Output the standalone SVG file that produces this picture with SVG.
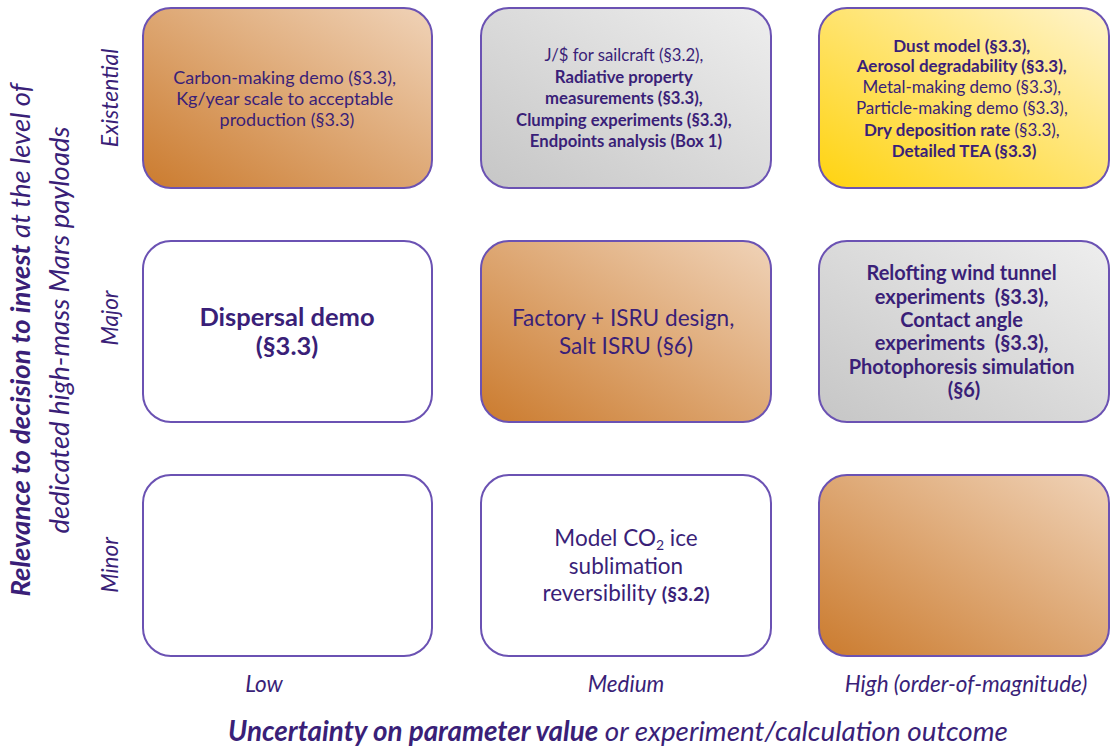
<svg xmlns="http://www.w3.org/2000/svg" width="1110" height="750" viewBox="0 0 1110 750">
  <defs>
    <linearGradient id="gOrange" x1="0" y1="1" x2="1" y2="0">
      <stop offset="0" stop-color="#cb7b2e"/>
      <stop offset="1" stop-color="#f0d3b8"/>
    </linearGradient>
    <linearGradient id="gGray" x1="0" y1="1" x2="1" y2="0">
      <stop offset="0" stop-color="#c6c6c6"/>
      <stop offset="1" stop-color="#eeeeee"/>
    </linearGradient>
    <linearGradient id="gYellow" x1="0" y1="1" x2="1" y2="0">
      <stop offset="0" stop-color="#ffd30f"/>
      <stop offset="1" stop-color="#fff4cc"/>
    </linearGradient>
  </defs>
  <style>
    .box { stroke: #6b52b3; stroke-width: 2; }
    .t { font-family: Lato, "Open Sans", sans-serif; fill: #3a1f78; text-anchor: middle; }
    .b { font-weight: bold; }
    .ax { font-family: Lato, "Liberation Sans", sans-serif; font-style: italic; fill: #3a1f78; text-anchor: middle; }
  </style>
  <rect width="1110" height="750" fill="#ffffff"/>

  <g id="connectors"/>

  <!-- Row: Existential -->
  <g id="n-carbon">
    <rect class="box" x="143" y="8" width="289" height="180" rx="28" fill="url(#gOrange)"/>
    <text class="t" font-size="18">
      <tspan x="287" y="84">Carbon-making demo (§3.3),</tspan>
      <tspan x="287" y="105">Kg/year scale to acceptable</tspan>
      <tspan x="287" y="126">production (§3.3)</tspan>
    </text>
  </g>
  <g id="n-radiative">
    <rect class="box" x="481" y="8" width="290" height="180" rx="28" fill="url(#gGray)"/>
    <text class="t" font-size="16.7">
      <tspan x="626" y="61">J/$ for sailcraft (§3.2),</tspan>
      <tspan class="b" x="626" y="83">Radiative property</tspan>
      <tspan class="b" x="626" y="104">measurements (§3.3),</tspan>
      <tspan class="b" x="626" y="126">Clumping experiments (§3.3),</tspan>
      <tspan class="b" x="626" y="147">Endpoints analysis (Box 1)</tspan>
    </text>
  </g>
  <g id="n-dust">
    <rect class="box" x="819" y="8" width="290" height="180" rx="28" fill="url(#gYellow)"/>
    <text class="t" font-size="17">
      <tspan class="b" x="964" y="52">Dust model (§3.3),</tspan>
      <tspan class="b" x="964" y="72">Aerosol degradability (§3.3),</tspan>
      <tspan x="964" y="93">Metal-making demo (§3.3),</tspan>
      <tspan x="964" y="114">Particle-making demo (§3.3),</tspan>
      <tspan x="964" y="136"><tspan class="b">Dry deposition rate</tspan> (§3.3),</tspan>
      <tspan class="b" x="964" y="157">Detailed TEA (§3.3)</tspan>
    </text>
  </g>

  <!-- Row: Major -->
  <g id="n-dispersal">
    <rect class="box" x="143" y="241" width="289" height="181" rx="28" fill="#ffffff"/>
    <text class="t b" font-size="25.5" x="287" y="326">Dispersal demo</text>
    <text class="t b" font-size="25.5" x="287" y="355">(§3.3)</text>
  </g>
  <g id="n-factory">
    <rect class="box" x="481" y="241" width="290" height="181" rx="28" fill="url(#gOrange)"/>
    <text class="t" font-size="22.6">
      <tspan x="626" y="326">Factory + ISRU design,</tspan>
      <tspan x="626" y="354">Salt ISRU (§6)</tspan>
    </text>
  </g>
  <g id="n-relofting">
    <rect class="box" x="819" y="241" width="290" height="181" rx="28" fill="url(#gGray)"/>
    <text class="t b" font-size="20">
      <tspan x="964" y="280">Relofting wind tunnel</tspan>
      <tspan x="964" y="304">experiments&#160; (§3.3),</tspan>
      <tspan x="964" y="327">Contact angle</tspan>
      <tspan x="964" y="350">experiments&#160; (§3.3),</tspan>
      <tspan x="964" y="374">Photophoresis simulation</tspan>
      <tspan x="964" y="397">(§6)</tspan>
    </text>
  </g>

  <!-- Row: Minor -->
  <g id="n-minor-low">
    <rect class="box" x="143" y="475" width="289" height="181" rx="28" fill="#ffffff"/>
  </g>
  <g id="n-co2">
    <rect class="box" x="481" y="475" width="290" height="181" rx="28" fill="#ffffff"/>
    <text class="t" font-size="22.5" x="626" y="546">Model CO<tspan font-size="14" dy="4">2</tspan><tspan dy="-4"> ice</tspan></text>
    <text class="t" font-size="22.5" x="626" y="574">sublimation</text>
    <text class="t" font-size="22.5" x="626" y="601">reversibility <tspan class="b" font-size="19.5">(§3.2)</tspan></text>
  </g>
  <g id="n-minor-high">
    <rect class="box" x="819" y="475" width="290" height="181" rx="28" fill="url(#gOrange)"/>
  </g>

  <!-- Axis labels -->
  <g id="x-axis">
    <text class="ax" font-size="22.5" x="264" y="692">Low</text>
    <text class="ax" font-size="22.5" x="626" y="692">Medium</text>
    <text class="ax" font-size="22.5" x="966" y="692">High (order-of-magnitude)</text>
    <text class="ax" font-size="27.8" x="618" y="741"><tspan font-weight="bold">Uncertainty on parameter value</tspan> or experiment/calculation outcome</text>
  </g>
  <g id="y-axis">
    <text class="ax" font-size="23" transform="translate(118 98) rotate(-90)">Existential</text>
    <text class="ax" font-size="22.5" transform="translate(118 318) rotate(-90)">Major</text>
    <text class="ax" font-size="22.5" transform="translate(118 565) rotate(-90)">Minor</text>
    <text class="ax" font-size="27.5" transform="translate(30 340) rotate(-90)"><tspan font-weight="bold">Relevance to decision to invest</tspan> at the level of</text>
    <text class="ax" font-size="27.5" transform="translate(69 330) rotate(-90)">dedicated high-mass Mars payloads</text>
  </g>
</svg>
